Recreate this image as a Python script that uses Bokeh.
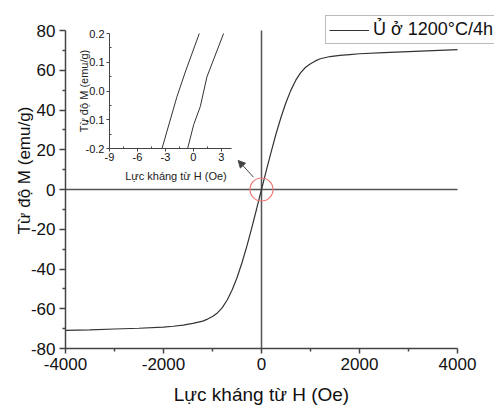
from bokeh.plotting import figure
from bokeh.models import (Range1d, FixedTicker, Arrow, NormalHead, Label,
                          Legend, LegendItem, GridBox)
from bokeh.embed import file_html
from bokeh.resources import INLINE

# ---------------- data ----------------
# main M-H loop (both branches coincide at this scale)
H_main = [-4000, -3500, -3000, -2500, -2000, -1800, -1600, -1400, -1200, -1100, -1000,
          -900, -800, -700, -600, -500, -400, -300, -200, -100, 0,
          100, 200, 300, 400, 500, 600, 700, 800, 900, 1000, 1100, 1200, 1400, 1600,
          1800, 2000, 2500, 3000, 3500, 4000]
M_main = [-70.9, -70.6, -70.2, -69.8, -69.2, -68.8, -68.2, -67.4, -66.2, -65.2, -63.9,
          -62.1, -59.4, -55.6, -50.6, -44.4, -37.0, -28.6, -19.4, -9.8, 0.0,
          9.7, 19.2, 28.3, 36.5, 43.8, 50.0, 55.0, 58.8, 61.5, 63.3, 64.7, 65.8, 66.9, 67.5,
          67.9, 68.3, 68.9, 69.4, 69.9, 70.4]

# inset: zoom of the loop around the origin
H_inset_left = [-3.36, -2.82, -1.75, -0.86, 0.64]
M_inset_left = [-0.2, -0.139, -0.019, 0.066, 0.2]
H_inset_right = [-0.61, 0.04, 0.75, 1.46, 3.25]
M_inset_right = [-0.2, -0.117, -0.054, 0.049, 0.2]

series_label = "Ủ ở 1200°C/4h"
x_title = "Lực kháng từ H (Oe)"
y_title = "Từ độ M (emu/g)"

x_ticks = [-4000, -2000, 0, 2000, 4000]
x_tick_labels = ["-4000", "-2000", "0", "2000", "4000"]
x_minor = [-3000, -1000, 1000, 3000]
y_ticks = [-80, -60, -40, -20, 0, 20, 40, 60, 80]
y_tick_labels = ["-80", "-60", "-40", "-20", "0", "20", "40", "60", "80"]
y_minor = [-70, -50, -30, -10, 10, 30, 50, 70]
x_bounds = (-4000, 4000)
y_bounds = (-80, 80)

inset_x_ticks = [-9, -6, -3, 0, 3]
inset_x_tick_labels = ["-9", "-6", "-3", "0", "3"]
inset_x_minor = [-7.5, -4.5, -1.5, 1.5]
inset_y_ticks = [-0.2, -0.1, 0, 0.1, 0.2]
inset_y_tick_labels = ["-0.2", "-0.1", "0.0", "0.1", "0.2"]
inset_y_minor = [-0.15, -0.05, 0.05, 0.15]
inset_x_bounds = (-9, 4.1)
inset_y_bounds = (-0.2, 0.2)

# marker of the zoomed region and pointer arrow
zoom_center = (0, 0)
arrow_start = (-163, 6.2)
arrow_end = (-476, 14.6)

FONT = "Liberation Sans"


def padded(bounds, pad_lo, span, pad_hi):
    """Range whose `bounds` occupy `span` pixels, with pixel padding on both sides."""
    lo, hi = bounds
    k = (hi - lo) / span
    return Range1d(lo - pad_lo * k, hi + pad_hi * k)


def style_axis(ax, ticks, minor, labels, loc, bounds, color, lw, tick_out, minor_in, minor_out,
               size, standoff):
    ax.ticker = FixedTicker(ticks=ticks, minor_ticks=minor)
    ax.major_label_overrides = dict(zip(ticks, labels))
    ax.fixed_location = loc
    ax.bounds = bounds
    ax.axis_line_color = color
    ax.axis_line_width = lw
    ax.major_tick_line_color = color
    ax.major_tick_line_width = lw
    ax.minor_tick_line_color = color
    ax.minor_tick_line_width = lw
    ax.major_tick_in = 0
    ax.major_tick_out = tick_out
    ax.minor_tick_in = minor_in
    ax.minor_tick_out = minor_out
    ax.major_label_text_font = FONT
    ax.major_label_text_font_size = size
    ax.major_label_text_color = "#111111"
    ax.major_label_standoff = standoff
    ax.axis_label = None


# ---------------- main figure ----------------
W, Hh = 494, 405
p = figure(width=W, height=Hh,
           x_range=padded(x_bounds, 65, 392, 37), y_range=padded(y_bounds, 57, 318, 30),
           output_backend="svg", toolbar_location=None,
           min_border_left=0, min_border_right=0, min_border_top=0, min_border_bottom=0)
p.outline_line_color = None
p.xgrid.grid_line_color = None
p.ygrid.grid_line_color = None
p.background_fill_color = "white"
p.border_fill_color = "white"

# zero lines across the axes' extent
p.segment(x0=[x_bounds[0]], y0=[0], x1=[x_bounds[1]], y1=[0], line_color="#555555", line_width=1.5)
p.segment(x0=[0], y0=[y_bounds[0]], x1=[0], y1=[y_bounds[1]], line_color="#555555", line_width=1.5)

r = p.line(H_main, M_main, line_color="#333333", line_width=1.2)

p.scatter(x=[zoom_center[0]], y=[zoom_center[1]], marker="circle", size=23,
          fill_color=None, line_color="#f07878", line_width=1.2)
p.add_layout(Arrow(x_start=arrow_start[0], y_start=arrow_start[1],
                   x_end=arrow_end[0], y_end=arrow_end[1],
                   line_color="#444444", line_width=1,
                   end=NormalHead(size=7, fill_color="#444444", line_color="#444444")))

style_axis(p.xaxis[0], x_ticks, x_minor, x_tick_labels, y_bounds[0], x_bounds,
           "#444444", 1.5, 5, 0, 3, "17px", 4)
style_axis(p.yaxis[0], y_ticks, y_minor, y_tick_labels, x_bounds[0], y_bounds,
           "#444444", 1.5, 6, 0, 3, "17px", 4)

p.add_layout(Label(x=24, y=235, x_units="screen", y_units="screen", text=y_title,
                   angle=90, angle_units="deg", text_align="center", text_baseline="middle",
                   text_font=FONT, text_font_size="17px", text_color="#111111"))
p.add_layout(Label(x=261, y=11, x_units="screen", y_units="screen", text=x_title,
                   text_align="center", text_baseline="middle",
                   text_font=FONT, text_font_size="19px", text_color="#111111"))

legend = Legend(items=[LegendItem(label=series_label, renderers=[r])], location=(325, 361),
                border_line_color="#777777", border_line_width=1, background_fill_color="white",
                background_fill_alpha=1, padding=3, margin=0, spacing=0,
                glyph_width=40, glyph_height=20, label_height=20, label_standoff=4,
                label_text_font=FONT, label_text_font_size="18px", label_text_color="#111111")
p.add_layout(legend)

# ---------------- inset figure ----------------
IW, IH = 171, 159
q = figure(width=IW, height=IH,
           x_range=padded(inset_x_bounds, 39, 122, 10), y_range=padded(inset_y_bounds, 36, 115, 8),
           output_backend="svg", toolbar_location=None,
           min_border_left=0, min_border_right=0, min_border_top=0, min_border_bottom=0)
q.outline_line_color = None
q.xgrid.grid_line_color = None
q.ygrid.grid_line_color = None
q.background_fill_alpha = 0
q.border_fill_alpha = 0
q.margin = (25, 0, 0, 70)

q.line(H_inset_left, M_inset_left, line_color="#333333", line_width=1)
q.line(H_inset_right, M_inset_right, line_color="#333333", line_width=1)

style_axis(q.xaxis[0], inset_x_ticks, inset_x_minor, inset_x_tick_labels, inset_y_bounds[0],
           inset_x_bounds, "#444444", 1, 3, 2, 0, "11px", 1)
style_axis(q.yaxis[0], inset_y_ticks, inset_y_minor, inset_y_tick_labels, inset_x_bounds[0],
           inset_y_bounds, "#444444", 1, 3, 2, 0, "11px", 2)

q.add_layout(Label(x=13, y=93.5, x_units="screen", y_units="screen", text=y_title,
                   angle=90, angle_units="deg", text_align="center", text_baseline="middle",
                   text_font=FONT, text_font_size="11px", text_color="#222222"))
q.add_layout(Label(x=105.5, y=9, x_units="screen", y_units="screen", text=x_title,
                   text_align="center", text_baseline="middle",
                   text_font=FONT, text_font_size="11px", text_color="#222222"))

layout = GridBox(children=[(p, 0, 0), (q, 0, 0)])

open("out.html", "w").write(file_html(layout, INLINE))
